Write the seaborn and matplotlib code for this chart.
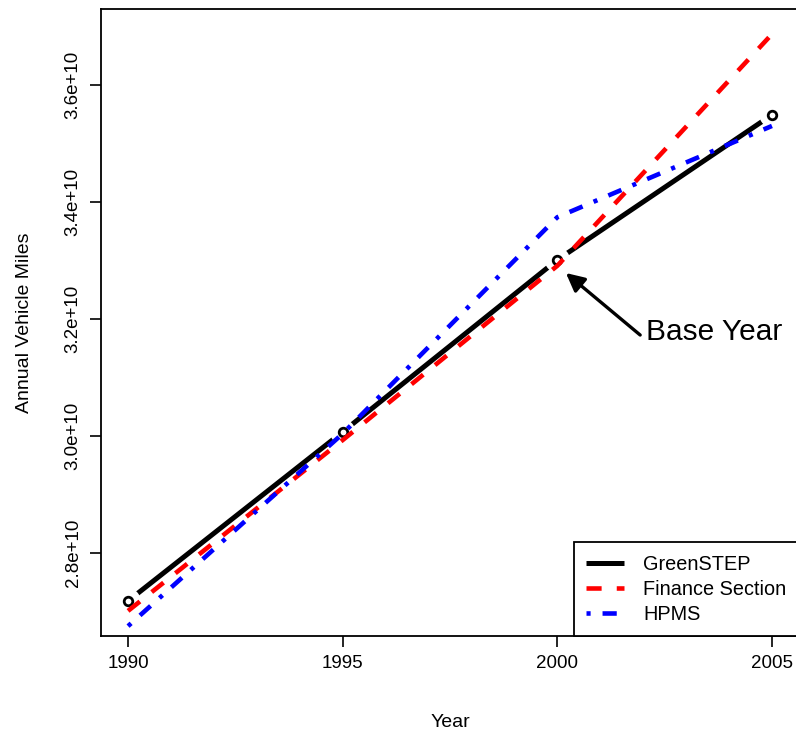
import matplotlib
matplotlib.use("Agg")
import matplotlib.pyplot as plt
import seaborn as sns
import pandas as pd

# ---- data ----
years = [1990, 1995, 2000, 2005]
greenstep = [2.718e10, 3.007e10, 3.301e10, 3.549e10]
finance = [2.701e10, 2.993e10, 3.291e10, 3.687e10]
hpms = [2.675e10, 3.004e10, 3.374e10, 3.530e10]
series_names = ["GreenSTEP", "Finance Section", "HPMS"]
x_ticks = [1990, 1995, 2000, 2005]
y_ticks = [2.8e10, 3.0e10, 3.2e10, 3.4e10, 3.6e10]
y_ticklabels = ["2.8e+10", "3.0e+10", "3.2e+10", "3.4e+10", "3.6e+10"]

sns.set_style("white")
plt.rcParams["font.family"] = ["Liberation Sans", "DejaVu Sans"]
plt.rcParams["text.color"] = "black"
plt.rcParams["axes.labelcolor"] = "black"
plt.rcParams["xtick.color"] = "black"
plt.rcParams["ytick.color"] = "black"

df = pd.DataFrame({"Year": years, "GreenSTEP": greenstep,
                   "Finance Section": finance, "HPMS": hpms})

fig = plt.figure(figsize=(7.96, 7.32), dpi=100)
ax = fig.add_axes([101/796, 96/732, 698/796, 626.7/732])

# GreenSTEP solid line with gaps at points (type="b")
sns.lineplot(data=df, x="Year", y="GreenSTEP", ax=ax, color="black", lw=3.6,
             label=series_names[0], zorder=2, solid_capstyle="butt")
ax.scatter(df["Year"], df["GreenSTEP"], s=330, c="white", edgecolors="none", zorder=2.1)
ax.scatter(df["Year"], df["GreenSTEP"], s=38, facecolors="white", edgecolors="black",
           linewidths=2.0, zorder=2.2)

sns.lineplot(data=df, x="Year", y="Finance Section", ax=ax, color="#ff0000", lw=3.3,
             linestyle=(0, (3.3, 3.3)), dash_capstyle="butt",
             label=series_names[1], zorder=2.3)
sns.lineplot(data=df, x="Year", y="HPMS", ax=ax, color="#0000ff", lw=3.3,
             linestyle=(0, (0.9, 2.6, 3.1, 2.6)), dash_capstyle="butt",
             label=series_names[2], zorder=2.4)

ax.set_xlim(1989.37, 2005.63)
ax.set_ylim(2.6581e10, 3.7294e10)
ax.set_xticks(x_ticks)
ax.set_xticklabels([str(t) for t in x_ticks], fontsize=13.5)
ax.set_yticks(y_ticks)
ax.set_yticklabels(y_ticklabels, fontsize=13.5, rotation=90, va="center")

for s in ax.spines.values():
    s.set_visible(True)
    s.set_color("black")
    s.set_linewidth(1.3)

ax.tick_params(axis="both", direction="out", length=8, width=1.2, color="black",
               left=True, bottom=True)
ax.tick_params(axis="x", pad=6)
ax.tick_params(axis="y", pad=6)

ax.set_xlabel("Year", fontsize=14)
ax.set_ylabel("Annual Vehicle Miles", fontsize=14)
ax.xaxis.set_label_coords(0.5, -0.124)
ax.yaxis.set_label_coords(-0.098, 0.5)

# Base year annotation
ax.annotate("", xy=(2000.2, 3.2786e10), xytext=(2001.93, 3.1726e10),
            arrowprops=dict(arrowstyle="-|>,head_length=1.1,head_width=0.55",
                            color="black", lw=2.4, shrinkA=0, shrinkB=0))
ax.text(2002.07, 3.1778e10, "Base Year", fontsize=21.5, ha="left", va="center")

leg = ax.legend(loc="lower left", bbox_to_anchor=(0.6777, 0.0), borderaxespad=0,
                fontsize=14.3, frameon=True, fancybox=False, handlelength=1.9,
                handletextpad=0.95, labelspacing=0.3, borderpad=0.62)
leg.get_frame().set_edgecolor("black")
leg.get_frame().set_linewidth(1.3)
leg.get_frame().set_alpha(1)

fig.savefig("out.png", dpi=100)
